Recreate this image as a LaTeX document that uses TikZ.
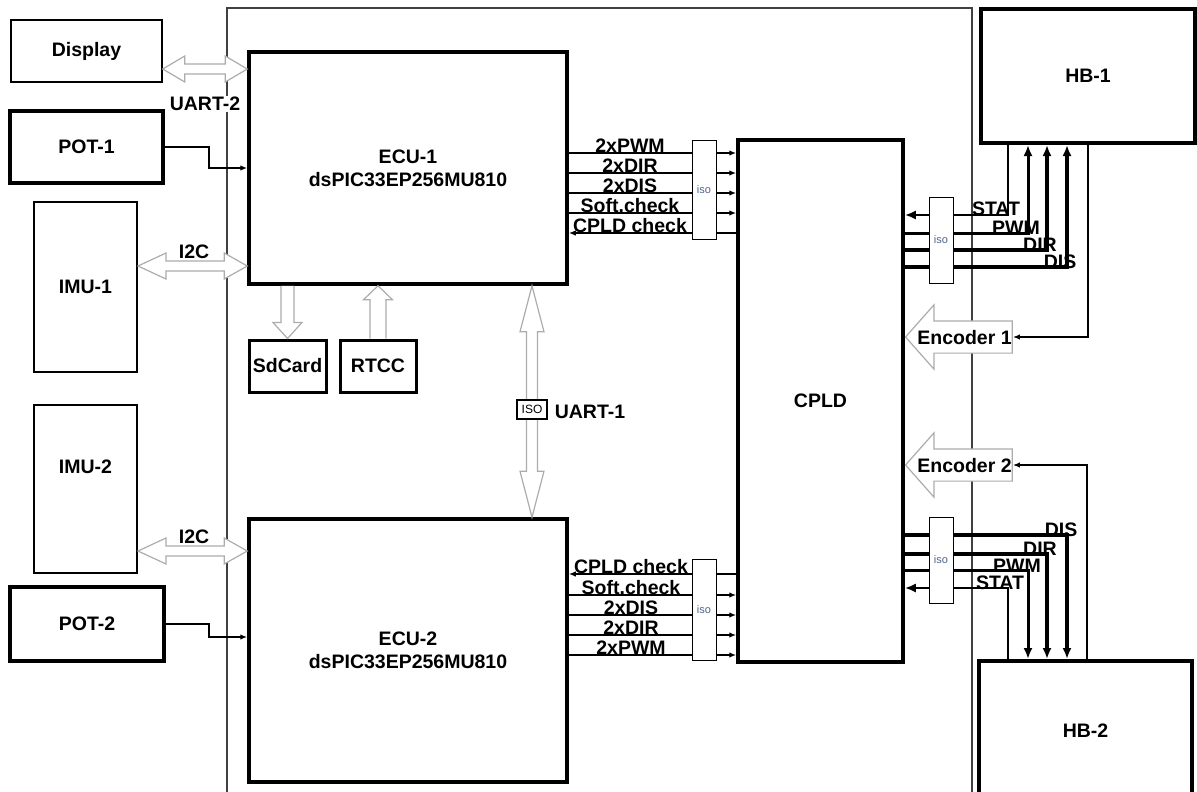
\documentclass[tikz,border=0pt]{standalone}
\usepackage{fontspec}
\setmainfont{Liberation Sans}
\usepackage{tikz}
\usepackage{xcolor}
\usetikzlibrary{arrows.meta,calc,shapes.arrows}
\definecolor{isoblue}{RGB}{80,100,140}

\begin{document}
\begin{tikzpicture}[x=1pt,y=-1pt,font=\fontsize{19.5}{23}\selectfont\bfseries,
  >={Latex[length=7pt,width=5.5pt]},
  blk/.style={draw,line width=#1,fill=white,inner sep=0pt,align=center},
  blk/.default=3pt,
  isobox/.style={draw,line width=1pt,fill=white,inner sep=0pt,minimum width=24pt,font=\fontsize{11}{12}\selectfont,text=isoblue},
  sig/.style={line width=1.5pt},
  sigr/.style={line width=3pt,>={Latex[length=11pt,width=9pt]}},
  hollow/.style={draw=gray!65,fill=white,line width=1.2pt},
  enc/.style={single arrow,shape border rotate=180,draw=gray!65,fill=white,line width=1.2pt,inner xsep=0pt,inner ysep=8.5pt,text height=14pt,text depth=0pt,single arrow head extend=16pt,single arrow tip angle=97,anchor=tip}]
\useasboundingbox (0,0) rectangle (1197,792);
\draw[line width=2pt,black!75] (227,792) -- (227,8) -- (972,8) -- (972,792);

\node[blk=1.5pt,minimum width=151pt,minimum height=62pt] (disp) at (86.5,51) {Display};
\node[blk=4pt,minimum width=153pt,minimum height=72pt] (pot1) at (86.5,147) {POT-1};
\node[blk=2pt,minimum width=103pt,minimum height=170pt] (imu1) at (85.5,287) {IMU-1};
\node[blk=2pt,minimum width=103pt,minimum height=168pt,label={[yshift=22pt]center:IMU-2}] (imu2) at (85.5,489) {};
\node[blk=4pt,minimum width=154pt,minimum height=74pt] (pot2) at (87,624) {POT-2};
\node[blk=3.5pt,minimum width=318pt,minimum height=232pt] (ecu1) at (408,168) {ECU-1\\dsPIC33EP256MU810};
\node[blk=3.5pt,minimum width=318pt,minimum height=263pt] (ecu2) at (408,650.5) {ECU-2\\dsPIC33EP256MU810};
\node[blk=3pt,minimum width=77pt,minimum height=52pt] (sd) at (287.5,366) {SdCard};
\node[blk=3pt,minimum width=76pt,minimum height=52pt] (rtcc) at (378,366) {RTCC};
\node[blk=3.5pt,minimum width=165pt,minimum height=522pt] (cpld) at (820.5,401) {CPLD};
\node[blk=4pt,minimum width=214pt,minimum height=134pt] (hb1) at (1088,76) {HB-1};
\node[blk=4pt,minimum width=213pt,minimum height=140pt] (hb2) at (1085.5,731) {HB-2};

\coordinate (u2a) at (disp.east|-0,69);
\coordinate (u2b) at (ecu1.west|-0,69);
\coordinate (i1a) at (imu1.east|-0,266);
\coordinate (i1b) at (ecu1.west|-0,266);
\coordinate (i2a) at (imu2.east|-0,551);
\coordinate (i2b) at (ecu2.west|-0,551);
\coordinate (u1a) at (ecu1.south-|532,0);
\coordinate (u1b) at (ecu2.north-|532,0);
\coordinate (sda) at (ecu1.south-|sd.north);
\coordinate (rtb) at (ecu1.south-|rtcc.north);

\draw[hollow] (u2a) -- ++(22,-13) -- ++(0,8) -- ($(u2b)+(-22,-5)$) -- ++(0,-8) -- (u2b) -- ++(-22,13) -- ++(0,-8) -- ($(u2a)+(22,5)$) -- ++(0,8) -- cycle;
\draw[hollow] (i1a) -- ++(28,-13) -- ++(0,8) -- ($(i1b)+(-23,-5)$) -- ++(0,-8) -- (i1b) -- ++(-23,13) -- ++(0,-8) -- ($(i1a)+(28,5)$) -- ++(0,8) -- cycle;
\draw[hollow] (i2a) -- ++(28,-13) -- ++(0,8) -- ($(i2b)+(-23,-5)$) -- ++(0,-8) -- (i2b) -- ++(-23,13) -- ++(0,-8) -- ($(i2a)+(28,5)$) -- ++(0,8) -- cycle;
\draw[hollow] (u1a) -- ++(-12,46) -- ++(6.5,0) -- ($(u1b)+(-5.5,-46)$) -- ++(-6.5,0) -- (u1b) -- ++(12,-46) -- ++(-6.5,0) -- ($(u1a)+(5.5,46)$) -- ++(6.5,0) -- cycle;
\draw[hollow] ($(sda)+(-6.5,0)$) -- ($(sd.north)+(-6.5,-16)$) -- ++(-8,0) -- (sd.north) -- ++(14.5,-16) -- ++(-8,0) -- ($(sda)+(6.5,0)$);
\draw[hollow] ($(rtcc.north)+(-8,0)$) -- ($(rtb)+(-8,14)$) -- ++(-6.5,0) -- (rtb) -- ++(14.5,14) -- ++(-6.5,0) -- ($(rtcc.north)+(8,0)$);

\node[fill=white,inner sep=1pt] (u2l) at (205,104) {UART-2};
\node (i2c1) at (194,252) {I2C};
\node (i2c2) at (194,537) {I2C};
\node[draw,line width=1.5pt,fill=white,minimum width=30pt,minimum height=19pt,inner sep=0pt,font=\fontsize{12}{12}\selectfont] (isou) at (532,409.5) {ISO};
\node (u1l) at (590,412) {UART-1};

\draw[sig,->] (pot1.east) -- ++(44,0) |- (ecu1.west|-0,168);
\draw[sig,->] (pot2.east) -- ++(43,0) |- (ecu2.west|-0,637);

\foreach \y/\w in {153/1.5,173/1.5,193/2.5,213/1.5}
  \draw[->,line width=\w pt] (ecu1.east|-0,\y) -- (cpld.west|-0,\y);
\draw[<-,line width=2.5pt] (ecu1.east|-0,233) -- (cpld.west|-0,233);
\draw[<-,line width=1.5pt] (ecu2.east|-0,574) -- (cpld.west|-0,574);
\foreach \y/\w in {595/1.5,615/2,635/1.5,655/1.5}
  \draw[->,line width=\w pt] (ecu2.east|-0,\y) -- (cpld.west|-0,\y);

\foreach \y/\t [count=\i] in {153/2xPWM,173/2xDIR,193/2xDIS,213/Soft.check,233/CPLD check}
  \node (up\i) at (630,\y-7) {\t};
\foreach \y/\t [count=\i] in {574/CPLD check,595/Soft.check,615/2xDIS,635/2xDIR,655/2xPWM}
  \node (lo\i) at (631,\y-7) {\t};

\draw[sigr,<-,line width=2.5pt] (cpld.east|-0,215) -| (hb1.south-|1008,0);
\draw[sigr,->] (cpld.east|-0,233) -| (hb1.south-|1028,0);
\draw[sigr,->,line width=4pt] (cpld.east|-0,250) -| (hb1.south-|1047,0);
\draw[sigr,->,line width=4.5pt] (cpld.east|-0,267) -| (hb1.south-|1067,0);
\draw[sigr,->,line width=4.5pt] (cpld.east|-0,535) -| (hb2.north-|1067,0);
\draw[sigr,->,line width=4pt] (cpld.east|-0,554) -| (hb2.north-|1047,0);
\draw[sigr,->] (cpld.east|-0,570) -| (hb2.north-|1028,0);
\draw[sigr,<-,line width=2.5pt] (cpld.east|-0,588) -| (hb2.north-|1008,0);

\node[isobox,minimum height=99pt] (isoa) at (704,189.5) {iso};
\node[isobox,minimum height=101pt] (isob) at (704,609.5) {iso};
\node[isobox,minimum height=86pt] (isoc) at (941,240) {iso};
\node[isobox,minimum height=86pt] (isod) at (941,560) {iso};

\node (stat1) at (996,209) {STAT};
\node (pwm1) at (1016,228) {PWM};
\node (dir1) at (1040,245) {DIR};
\node (dis1) at (1060,262) {DIS};
\node (dis2) at (1061,530) {DIS};
\node (dir2) at (1040,549) {DIR};
\node (pwm2) at (1017,566) {PWM};
\node (stat2) at (1000,583) {STAT};

\node[enc] (enc1) at (cpld.east|-0,337) {\hspace*{-3pt}Encoder 1};
\node[enc] (enc2) at (cpld.east|-0,465) {\hspace*{-3pt}Encoder 2};
\draw[sig,->] (hb1.south-|1088,0) |- (enc1.tail);
\draw[sig,->] (hb2.north-|1087,0) |- (enc2.tail);
\end{tikzpicture}
\end{document}
